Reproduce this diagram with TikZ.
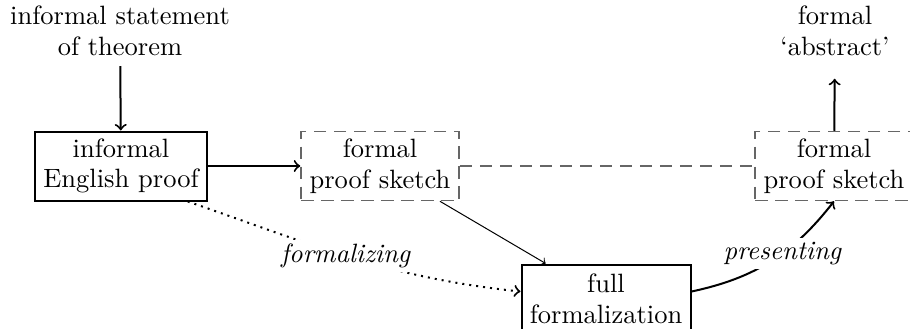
\documentclass[tikz,border=0pt]{standalone}
\usetikzlibrary{calc}
\begin{document}
\begin{tikzpicture}[x=0.4pt,y=0.4pt,
  every node/.style={font=\fontsize{10.6}{12.2}\selectfont},
  solidbox/.style={draw,line width=0.8pt,minimum width=#1,minimum height=27.6pt,align=center,inner sep=2pt},
  dashbox/.style={draw=black!60,line width=0.6pt,dash pattern=on 5pt off 3pt,minimum width=63.2pt,minimum height=27.6pt,align=center,inner sep=2pt},
  plaintext/.style={align=center,inner sep=4pt},
  arr/.style={->,line width=0.8pt},
  lbl/.style={fill=white,font=\fontsize{10.6}{12.2}\selectfont\itshape,inner sep=1.5pt}]
\useasboundingbox (0,0) rectangle (910,328);
\node[plaintext] (stmt) at (120,297) {informal statement\\of theorem};
\node[plaintext] (abs) at (835,297) {formal\\`abstract'};
\node[solidbox=68.8pt] (b1) at (121,162) {informal\\English proof};
\node[dashbox] (b2) at (380,162) {formal\\proof sketch};
\node[dashbox] (b3) at (834,162) {formal\\proof sketch};
\node[solidbox=67.6pt] (b4) at (606,29) {full\\formalization};
\draw[arr] (stmt) -- (b1);
\draw[arr,shorten >=5pt] (b3) -- (abs);
\draw[arr] (b1) -- (b2);
\draw[draw=black!60,line width=0.6pt,dash pattern=on 5pt off 3pt] (b2) -- (b3);
\draw[->,line width=0.4pt] (b2) -- (b4);
\draw[->,line width=0.8pt,dotted] (b1.-28) to[out=-19,in=174] node[lbl,pos=0.48] {formalizing} (b4.175);
\draw[arr] (b4.5) to[out=12,in=-128] node[lbl,pos=0.58] {presenting} (b3.south);
\end{tikzpicture}
\end{document}
